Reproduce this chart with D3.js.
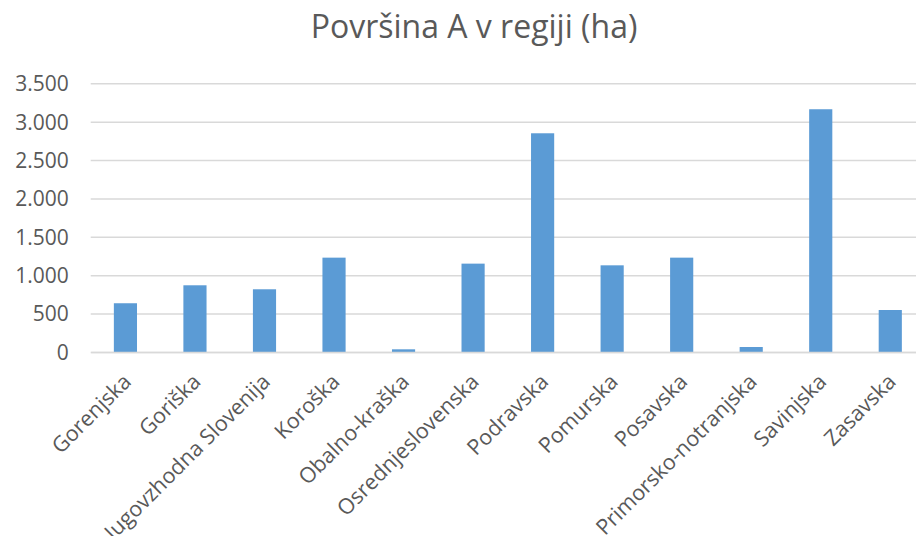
<!DOCTYPE html>
<html>
<head>
<meta charset="utf-8">
<script src="https://cdn.jsdelivr.net/npm/d3@7"></script>
<style>
  html, body { margin: 0; padding: 0; background: #fff; overflow: hidden; }
  svg { display: block; }
  text { font-family: "Open Sans", sans-serif; fill: #595959; }
</style>
</head>
<body>
<svg id="chart" width="916" height="536"></svg>
<script>
// Regije in površina (ha)
const regions = ["Gorenjska", "Goriška", "Jugovzhodna Slovenija", "Koroška", "Obalno-kraška",
  "Osrednjeslovenska", "Podravska", "Pomurska", "Posavska", "Primorsko-notranjska",
  "Savinjska", "Zasavska"];
const areaHa = [635, 869, 817, 1229, 35, 1151, 2849, 1129, 1229, 65, 3162, 547];
const yTicks = [0, 500, 1000, 1500, 2000, 2500, 3000, 3500];
const title = "Površina A v regiji (ha)";

const svg = d3.select("#chart");
const plot = { left: 90.7, right: 925, top: 83.3, bottom: 352 };

const x = d3.scaleBand()
  .domain(regions)
  .range([plot.left, plot.right])
  .paddingInner(0.667)
  .paddingOuter(0.333);

const y = d3.scaleLinear()
  .domain([0, 3500])
  .range([plot.bottom, plot.top]);

const fmt = v => d3.format(",")(v).replace(/,/g, ".");

// Title
svg.append("text")
  .attr("x", 474)
  .attr("y", 38)
  .attr("text-anchor", "middle")
  .style("font-size", "32px")
  .text(title);

// Horizontal gridlines and value labels
const yAxis = d3.axisLeft(y).tickValues(yTicks).tickFormat(fmt)
  .tickSize(-(plot.right - plot.left)).tickPadding(22);
const gy = svg.append("g")
  .attr("transform", `translate(${plot.left},0)`)
  .call(yAxis);
gy.select(".domain").remove();
gy.selectAll(".tick line").attr("stroke", "#d9d9d9").attr("stroke-width", 1.5);
gy.selectAll(".tick text")
  .style("font-size", "21px")
  .attr("fill", "#595959")
  .attr("dy", "0.35em");

// Bars
svg.append("g").selectAll("rect")
  .data(regions.map((r, i) => ({ r, v: areaHa[i] })))
  .join("rect")
  .attr("x", d => x(d.r))
  .attr("y", d => y(d.v))
  .attr("width", x.bandwidth())
  .attr("height", d => y(0) - y(d.v))
  .attr("fill", "#5b9bd5");

// Category axis, labels slanted at 45°
const xAxis = d3.axisBottom(x).tickSize(0).tickPadding(0);
const gx = svg.append("g")
  .attr("transform", `translate(0,${plot.bottom})`)
  .call(xAxis);
gx.select(".domain").attr("stroke", "#d9d9d9").attr("stroke-width", 1.5);
gx.selectAll(".tick text")
  .style("font-size", "21.5px")
  .attr("fill", "#595959")
  .attr("text-anchor", "end")
  .attr("dy", "0")
  .attr("transform", "translate(7,31) rotate(-45)");
</script>
</body>
</html>
